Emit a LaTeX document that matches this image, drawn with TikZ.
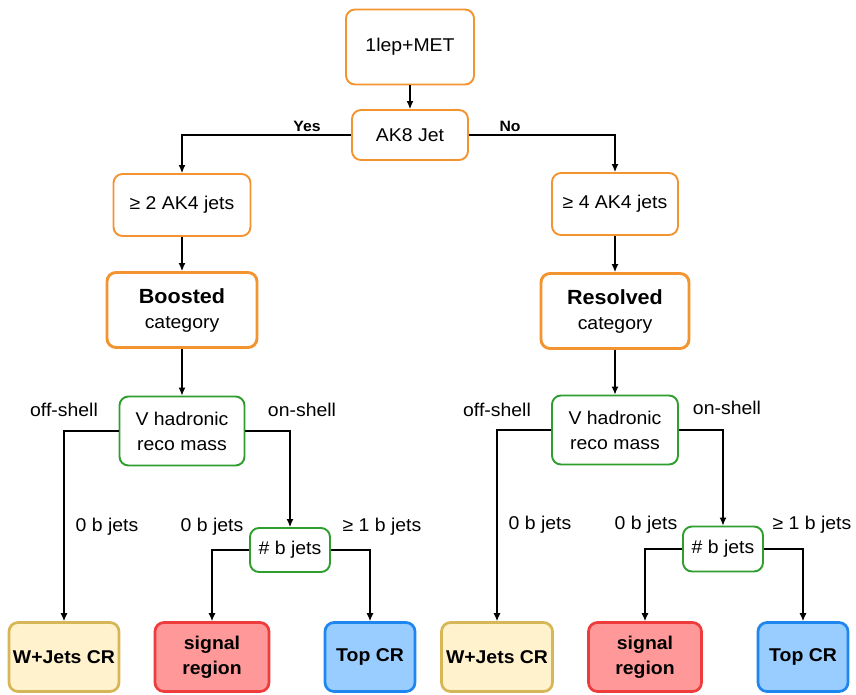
\documentclass[tikz,border=0pt]{standalone}
\usepackage{fontspec}
\setmainfont{Liberation Sans}[FakeStretch=1.05]
\usetikzlibrary{arrows.meta}
\definecolor{orangeb}{HTML}{F39431}
\definecolor{greenb}{HTML}{2E9E2E}
\definecolor{yellowf}{HTML}{FFF2CC}
\definecolor{yellowb}{HTML}{D6B656}
\definecolor{redf}{HTML}{FF9999}
\definecolor{redb}{HTML}{EE3B3B}
\definecolor{bluef}{HTML}{99CCFF}
\definecolor{blueb}{HTML}{1E86EE}
\newcommand{\txt}{\fontsize{18.5}{25}\selectfont}
\begin{document}
\begin{tikzpicture}[x=1pt,y=-1pt,>={Latex[length=8pt,width=7pt]}]
  \tikzstyle{box}=[rounded corners=9pt, align=center, inner sep=0pt, font=\txt]
  \tikzstyle{cut}=[box, draw=orangeb, line width=1.9pt]
  \tikzstyle{cat}=[box, draw=orangeb, line width=2.9pt]
  \tikzstyle{sel}=[box, draw=greenb, line width=1.9pt]
  \tikzstyle{region}=[box, line width=2.7pt, minimum height=69pt, font=\txt\bfseries]
  \tikzstyle{lbl}=[font=\txt, inner sep=0pt]
  \tikzstyle{yn}=[font=\fontsize{15}{18}\selectfont\bfseries, inner sep=0pt]
  \tikzstyle{link}=[->, line width=1.2pt]
  \useasboundingbox (0,0) rectangle (856,694);
  % top of the tree
  \node[cut, minimum width=128pt, minimum height=75pt] (met) at (410,47) {1lep+MET};
  \node[cut, minimum width=116pt, minimum height=50pt] (ak8) at (410,135) {AK8 Jet};
  \node[cut, minimum width=137pt, minimum height=62pt] (twojets) at (182,205) {≥ 2 AK4 jets};
  \node[cut, minimum width=126pt, minimum height=62pt] (fourjets) at (615,204) {≥ 4 AK4 jets};
  \node[cat, minimum width=150pt, minimum height=75pt] (boost) at (182,310)
    {{\fontsize{20.5}{25}\selectfont\bfseries Boosted}\\category};
  \node[cat, minimum width=148pt, minimum height=75pt] (resol) at (615,311)
    {{\fontsize{20.5}{25}\selectfont\bfseries Resolved}\\category};
  \node[yn] (yes) at (307,126) {Yes};
  \node[yn] (no) at (510,126) {No};
  \draw[link] (met) -- (ak8);
  \draw[link] (ak8.west) -| (twojets.north);
  \draw[link] (ak8.east) -| (fourjets.north);
  \draw[link] (twojets) -- (boost);
  \draw[link] (fourjets) -- (resol);
  % boosted branch
  \node[sel, minimum width=125pt, minimum height=69pt] (vmassB) at (182,431) {V hadronic\\reco mass};
  \node[sel, minimum width=80pt, minimum height=44pt] (nbB) at (290,550) {\# b jets};
  \node[region, fill=yellowf, draw=yellowb, minimum width=110pt] (wjetsB) at (64,657) {W+Jets CR};
  \node[region, fill=redf, draw=redb, minimum width=114pt] (sigB) at (212,657) {signal\\region};
  \node[region, fill=bluef, draw=blueb, minimum width=90pt] (topB) at (370,657) {Top CR};
  \node[lbl] (offB) at (64,410) {off-shell};
  \node[lbl] (onB) at (302,410) {on-shell};
  \node[lbl] (zeroB) at (107,527) {0 b jets};
  \node[lbl] (zerobB) at (212,527) {0 b jets};
  \node[lbl] (oneB) at (382,527) {≥ 1 b jets};
  \draw[link] (boost) -- (vmassB);
  \draw[link] (vmassB.west) -| (wjetsB.north);
  \draw[link] (vmassB.east) -| (nbB.north);
  \draw[link] (nbB.west) -| (sigB.north);
  \draw[link] (nbB.east) -| (topB.north);
  % resolved branch
  \node[sel, minimum width=126pt, minimum height=69pt] (vmassR) at (615,430) {V hadronic\\reco mass};
  \node[sel, minimum width=80pt, minimum height=45pt] (nbR) at (723,549) {\# b jets};
  \node[region, fill=yellowf, draw=yellowb, minimum width=111pt] (wjetsR) at (497,657) {W+Jets CR};
  \node[region, fill=redf, draw=redb, minimum width=113pt] (sigR) at (645,657) {signal\\region};
  \node[region, fill=bluef, draw=blueb, minimum width=90pt] (topR) at (803,657) {Top CR};
  \node[lbl] (offR) at (497,410) {off-shell};
  \node[lbl] (onR) at (727,408) {on-shell};
  \node[lbl] (zeroR) at (540,525) {0 b jets};
  \node[lbl] (zerobR) at (646,525) {0 b jets};
  \node[lbl] (oneR) at (812,525) {≥ 1 b jets};
  \draw[link] (resol) -- (vmassR);
  \draw[link] (vmassR.west) -| (wjetsR.north);
  \draw[link] (vmassR.east) -| (nbR.north);
  \draw[link] (nbR.west) -| (sigR.north);
  \draw[link] (nbR.east) -| (topR.north);
\end{tikzpicture}
\end{document}
